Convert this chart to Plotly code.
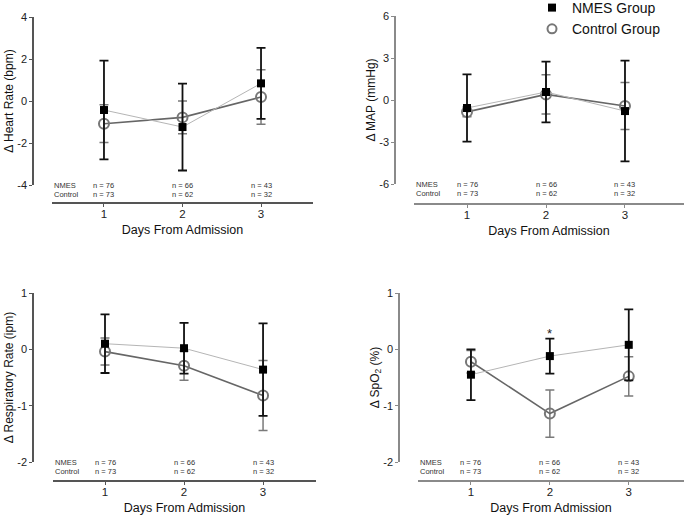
import plotly.graph_objects as go

# ---------------- data ----------------
days = [1, 2, 3]
day_labels = ["1", "2", "3"]
nmes_n = [76, 66, 43]
ctrl_n = [73, 62, 32]

hr_nmes = [-0.43, -1.24, 0.84]
hr_nmes_err = [2.35, 2.07, 1.69]
hr_ctrl = [-1.08, -0.78, 0.19]
hr_ctrl_err = [0.90, 0.78, 1.30]
hr_ticks = [-4, -2, 0, 2, 4]

map_nmes = [-0.57, 0.57, -0.79]
map_nmes_err = [2.40, 2.17, 3.60]
map_ctrl = [-0.85, 0.40, -0.43]
map_ctrl_err = [0.35, 1.40, 1.68]
map_ticks = [-6, -3, 0, 3, 6]

rr_nmes = [0.10, 0.02, -0.36]
rr_nmes_err = [0.52, 0.45, 0.82]
rr_ctrl = [-0.04, -0.29, -0.82]
rr_ctrl_err = [0.24, 0.26, 0.62]
rr_ticks = [-2, -1, 0, 1]

spo2_nmes = [-0.45, -0.12, 0.08]
spo2_nmes_err = [0.45, 0.31, 0.63]
spo2_ctrl = [-0.22, -1.14, -0.48]
spo2_ctrl_err = [0.20, 0.42, 0.35]
spo2_ticks = [-2, -1, 0, 1]

series_names = ["NMES Group", "Control Group"]
row_labels = ["NMES", "Control"]

# ---------------- layout geometry (pixels) ----------------
W, H = 685, 517
FONT = "Arial, 'Liberation Sans', Helvetica, sans-serif"


def fx(p):
    return p / W


def fy(p):
    return 1 - p / H


panels = [
    dict(xd=(52, 313), xr=(0.338, 3.662), yd=(17, 185), yr=(-4, 4),
         yax=33, xax=203, title="Δ Heart Rate (bpm)",
         nm=hr_nmes, ne=hr_nmes_err, cm=hr_ctrl, ce=hr_ctrl_err, ticks=hr_ticks,
         acol="#555555"),
    dict(xd=(414, 684), xr=(0.329, 3.747), yd=(16, 184), yr=(-6, 6),
         yax=395, xax=204, title="Δ MAP (mmHg)",
         nm=map_nmes, ne=map_nmes_err, cm=map_ctrl, ce=map_ctrl_err, ticks=map_ticks,
         acol="#8a8a8a"),
    dict(xd=(53, 316), xr=(0.342, 3.67), yd=(293, 462), yr=(-2, 1),
         yax=33, xax=481, title="Δ Respiratory Rate (ipm)",
         nm=rr_nmes, ne=rr_nmes_err, cm=rr_ctrl, ce=rr_ctrl_err, ticks=rr_ticks,
         acol="#555555"),
    dict(xd=(418, 684), xr=(0.329, 3.70), yd=(293, 462), yr=(-2, 1),
         yax=399, xax=481, title="Δ SpO<sub>2</sub> (%)",
         nm=spo2_nmes, ne=spo2_nmes_err, cm=spo2_ctrl, ce=spo2_ctrl_err, ticks=spo2_ticks,
         acol="#8a8a8a"),
]

fig = go.Figure()
layout = dict(
    width=W, height=H,
    margin=dict(l=0, r=0, t=0, b=0, autoexpand=False),
    paper_bgcolor="white", plot_bgcolor="white",
    font=dict(family=FONT, color="#222222"),
    showlegend=True,
    legend=dict(x=fx(532), y=fy(-8), xanchor="left", yanchor="top",
                font=dict(size=14, color="#111111"), itemwidth=30,
                bgcolor="rgba(0,0,0,0)", tracegroupgap=0),
)
annotations = []

for i, p in enumerate(panels):
    k = "" if i == 0 else str(i + 1)
    xa, ya = "x" + k, "y" + k
    # control group first (drawn below)
    fig.add_trace(go.Scatter(
        x=days, y=p["cm"], xaxis=xa, yaxis=ya, mode="lines+markers",
        name=series_names[1], showlegend=False, hoverinfo="skip",
        line=dict(color="#666666", width=1.6),
        marker=dict(symbol="circle-open", size=10, color="#777777", line=dict(width=2, color="#777777")),
        error_y=dict(type="data", array=p["ce"], visible=True, color="#7a7a7a", thickness=1.5, width=4.5),
        cliponaxis=False,
    ))
    fig.add_trace(go.Scatter(
        x=days, y=p["nm"], xaxis=xa, yaxis=ya, mode="lines+markers",
        name=series_names[0], showlegend=False, hoverinfo="skip",
        line=dict(color="#b5b5b5", width=1),
        marker=dict(symbol="square", size=8, color="#000000"),
        error_y=dict(type="data", array=p["ne"], visible=True, color="#111111", thickness=1.8, width=4.5),
        cliponaxis=False,
    ))
    layout["xaxis" + k] = dict(
        domain=[fx(p["xd"][0]), fx(p["xd"][1])], range=list(p["xr"]),
        anchor="free", position=fy(p["xax"]), automargin=False,
        tickvals=days, ticktext=day_labels, ticks="outside", ticklen=3, tickwidth=1,
        tickcolor=p["acol"], showline=True, linecolor=p["acol"], linewidth=1.5,
        showgrid=False, zeroline=False, tickfont=dict(size=11.5, color="#222222"),
        ticklabelstandoff=-3,
        title=dict(text="Days From Admission", font=dict(size=12.5, color="#111111"), standoff=6),
    )
    layout["yaxis" + k] = dict(
        domain=[fy(p["yd"][1]), fy(p["yd"][0])], range=list(p["yr"]),
        anchor="free", position=fx(p["yax"]), automargin=False,
        tickvals=p["ticks"], ticktext=[str(t) for t in p["ticks"]],
        ticks="outside", ticklen=3, tickwidth=1, tickcolor=p["acol"],
        showline=True, linecolor=p["acol"], linewidth=1.5,
        showgrid=False, zeroline=False, tickfont=dict(size=11, color="#222222"),
        title=dict(text=p["title"], font=dict(size=12, color="#111111"), standoff=0),
    )
    # n tables
    for r, (lab, ns) in enumerate(zip(row_labels, [nmes_n, ctrl_n])):
        annotations.append(dict(
            xref=xa + " domain", yref=ya + " domain", x=0, y=0, xanchor="left", yanchor="middle",
            yshift=-9 * r, text=lab, showarrow=False, font=dict(size=7.5, color="#333333")))
        for d, n in zip(days, ns):
            annotations.append(dict(
                xref=xa, yref=ya + " domain", x=d, y=0, xanchor="center", yanchor="middle",
                yshift=-9 * r, text="n = %d" % n, showarrow=False,
                font=dict(size=7.5, color="#333333")))

# significance marker (SpO2, day 2)
annotations.append(dict(xref="x4", yref="y4", x=days[1], y=spo2_nmes[1] + spo2_nmes_err[1] + 0.1,
                        text="*", showarrow=False, font=dict(size=13, color="#222222"),
                        yanchor="middle"))

# legend entries
fig.add_trace(go.Scatter(x=[None], y=[None], xaxis="x2", yaxis="y2", mode="markers",
                         name=series_names[0], marker=dict(symbol="square", size=8, color="#000000")))
fig.add_trace(go.Scatter(x=[None], y=[None], xaxis="x2", yaxis="y2", mode="markers",
                         name=series_names[1],
                         marker=dict(symbol="circle-open", size=9, color="#777777", line=dict(width=2))))

layout["annotations"] = annotations
fig.update_layout(**layout)
fig.write_html("out.html", config={"displayModeBar": False},
               post_script="document.body.style.margin='0';document.body.style.overflow='hidden';")
